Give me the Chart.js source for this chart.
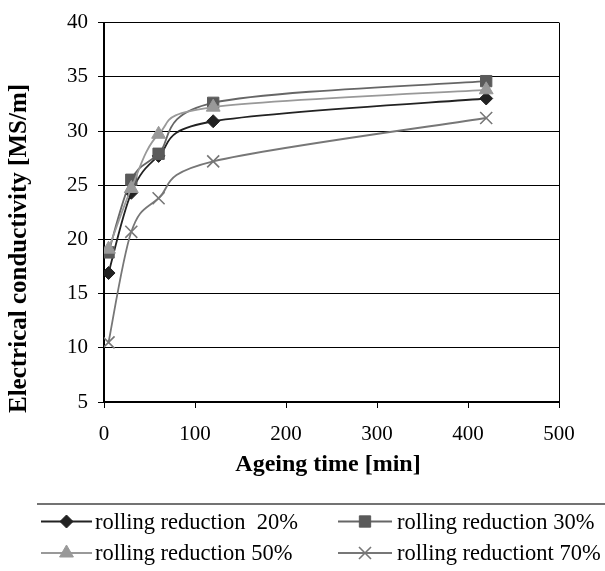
<!DOCTYPE html>
<html>
<head>
<meta charset="utf-8">
<script src="https://cdn.jsdelivr.net/npm/chart.js@4/dist/chart.umd.min.js"></script>
<style>
  html, body { margin: 0; padding: 0; background: #fff; }
  #wrap { position: relative; width: 605px; height: 571px; }
</style>
</head>
<body>
<div id="wrap"><canvas id="c" width="605" height="571"></canvas></div>
<script>
// ---- data ----
const ageingTime = [5, 30, 60, 120, 420];
const red20 = [16.9, 24.3, 27.7, 30.9, 33.0];
const red30 = [18.8, 25.5, 27.9, 32.6, 34.6];
const red50 = [19.1, 24.7, 29.7, 32.2, 33.8];
const red70 = [10.5, 20.7, 23.8, 27.2, 31.2];
const seriesLabels = ['rolling reduction  20%', 'rolling reduction 30%', 'rolling reduction 50%', 'rolling reductiont 70%'];
const xTicks = [0, 100, 200, 300, 400, 500];
const yTicks = [5, 10, 15, 20, 25, 30, 35, 40];
const xTitle = 'Ageing time [min]';
const yTitle = 'Electrical conductivity [MS/m]';

const serif = '"Liberation Serif", "Times New Roman", serif';

function pts(vals) { return ageingTime.map((x, i) => ({ x: x, y: vals[i] })); }

const styles = [
  { color: '#222222', fill: '#222222', pointStyle: 'rectRot', radius: 6.5, order: 4 },
  { color: '#666666', fill: '#5a5a5a', pointStyle: 'rect', radius: 8, order: 3 },
  { color: '#999999', fill: '#999999', pointStyle: 'triangle', radius: 8, order: 2 },
  { color: '#777777', fill: '#777777', pointStyle: 'crossRot', radius: 8.5, order: 1 }
];
const allSeries = [red20, red30, red50, red70];

const datasets = allSeries.map((vals, i) => ({
  label: seriesLabels[i],
  data: pts(vals),
  borderColor: styles[i].color,
  backgroundColor: styles[i].fill,
  pointBackgroundColor: styles[i].fill,
  pointBorderColor: styles[i].fill,
  pointBorderWidth: styles[i].pointStyle === 'crossRot' ? 1.6 : 1,
  pointStyle: styles[i].pointStyle,
  pointRadius: styles[i].radius,
  borderWidth: 1.8,
  tension: 0.4,
  order: styles[i].order,
  fill: false
}));

// Excel-style smoothing: Bezier control points at 1/6 of the neighbour chord
const smoothing = {
  id: 'smoothing',
  afterDatasetsUpdate(chart) {
    chart.getSortedVisibleDatasetMetas().forEach(meta => {
      const p = meta.data;
      for (let i = 0; i < p.length; i++) {
        const prev = p[Math.max(0, i - 1)], next = p[Math.min(p.length - 1, i + 1)], cur = p[i];
        const dx = (next.x - prev.x) / 6, dy = (next.y - prev.y) / 6;
        cur.cp1x = cur.x - dx; cur.cp1y = cur.y - dy;
        cur.cp2x = cur.x + dx; cur.cp2y = cur.y + dy;
      }
      if (meta.dataset) meta.dataset._pointsUpdated = true;
    });
  }
};

const decor = {
  id: 'decor',
  afterDraw(chart) {
    const ctx = chart.ctx;
    const a = chart.chartArea;
    ctx.save();
    ctx.strokeStyle = '#000';
    ctx.lineWidth = 1;
    ctx.beginPath();
    ctx.moveTo(Math.round(a.right) + 0.5, a.top);
    ctx.lineTo(Math.round(a.right) + 0.5, a.bottom);
    ctx.stroke();

    ctx.fillStyle = '#000';
    ctx.font = 'bold 24px ' + serif;
    ctx.textAlign = 'center';
    ctx.textBaseline = 'alphabetic';
    ctx.fillText(xTitle, 328, 471);
    ctx.save();
    ctx.translate(26, 248.5);
    ctx.rotate(-Math.PI / 2);
    ctx.font = 'bold 25px ' + serif;
    ctx.fillText(yTitle, 0, 0);
    ctx.restore();

    ctx.strokeStyle = '#444';
    ctx.lineWidth = 1.5;
    ctx.beginPath();
    ctx.moveTo(37, 504);
    ctx.lineTo(605, 504);
    ctx.stroke();
    const cols = [{ x0: 41, x1: 92, tx: 95 }, { x0: 338, x1: 392, tx: 397 }];
    const rows = [521.5, 553];
    chart.data.datasets.forEach((ds, i) => {
      const c = cols[i % 2];
      const y = rows[Math.floor(i / 2)];
      ctx.strokeStyle = ds.borderColor;
      ctx.lineWidth = 1.8;
      ctx.beginPath();
      ctx.moveTo(c.x0, y);
      ctx.lineTo(c.x1, y);
      ctx.stroke();
      ctx.fillStyle = ds.pointBackgroundColor;
      ctx.strokeStyle = ds.pointBorderColor;
      ctx.lineWidth = ds.pointBorderWidth;
      Chart.helpers.drawPoint(ctx, { pointStyle: ds.pointStyle, radius: ds.pointRadius, rotation: 0, borderWidth: ds.pointBorderWidth }, (c.x0 + c.x1) / 2, y);
      ctx.fillStyle = '#000';
      ctx.font = '22.5px ' + serif;
      ctx.textAlign = 'left';
      ctx.textBaseline = 'alphabetic';
      ctx.fillText(ds.label, c.tx, y + 7);
    });
    ctx.restore();
  }
};

new Chart(document.getElementById('c'), {
  type: 'line',
  data: { datasets: datasets },
  options: {
    responsive: false,
    animation: false,
    devicePixelRatio: 1,
    layout: { padding: { left: 0, right: 46, top: 17, bottom: 0 } },
    plugins: { legend: { display: false }, tooltip: { enabled: false } },
    scales: {
      x: {
        type: 'linear',
        min: 0, max: 500,
        afterFit(s) { s.height = 169; },
        afterBuildTicks(s) { s.ticks = xTicks.map(v => ({ value: v })); },
        ticks: { color: '#000', font: { family: serif, size: 21 }, padding: 14, maxRotation: 0 },
        grid: { drawOnChartArea: false, drawTicks: true, tickLength: 6, color: '#000', lineWidth: 1 },
        border: { display: true, color: '#000', width: 2 }
      },
      y: {
        type: 'linear',
        min: 5, max: 40,
        afterFit(s) { s.width = 104; },
        afterBuildTicks(s) { s.ticks = yTicks.map(v => ({ value: v })); },
        ticks: { color: '#000', font: { family: serif, size: 21 }, padding: 10 },
        grid: { drawOnChartArea: true, drawTicks: true, tickLength: 6, color: '#000', lineWidth: 1 },
        border: { display: true, color: '#000', width: 2 }
      }
    }
  },
  plugins: [smoothing, decor]
});
</script>
</body>
</html>
